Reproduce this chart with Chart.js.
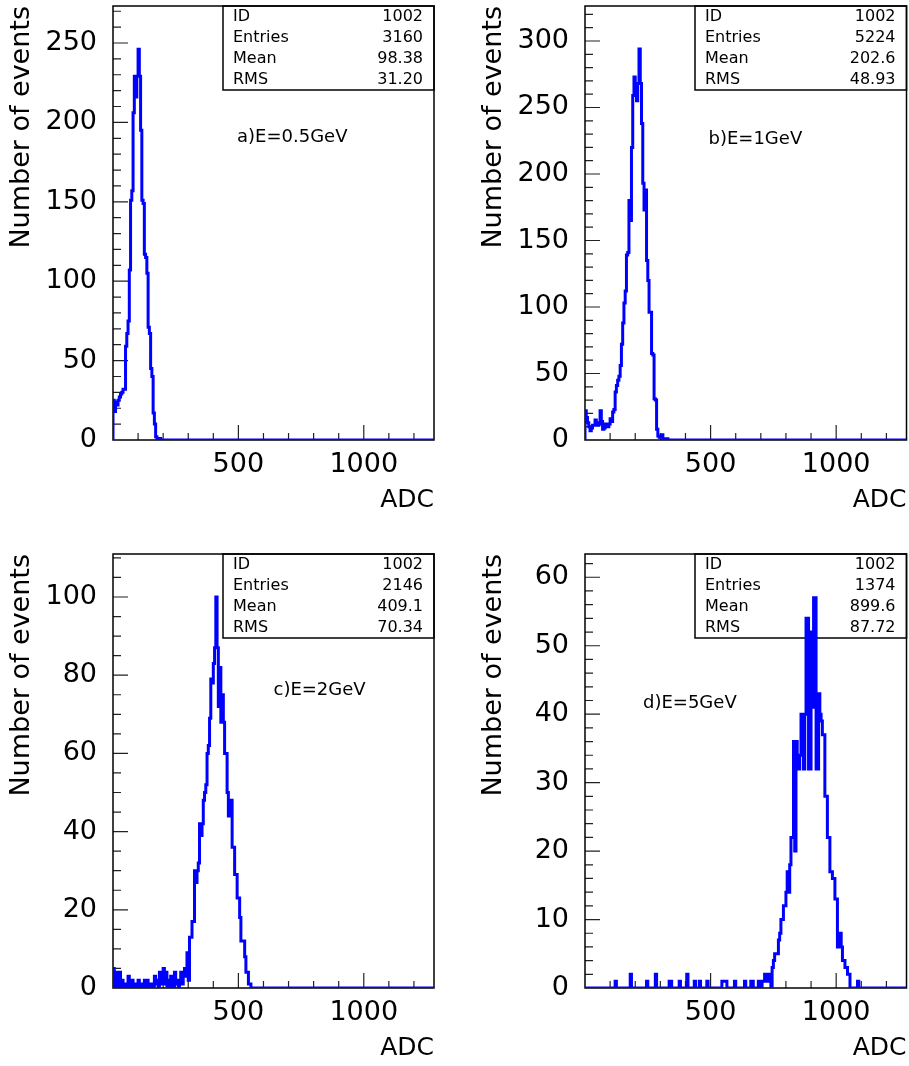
<!DOCTYPE html>
<html lang="en">
  <head>
    <meta charset="UTF-8" />
    <title>ADC spectra</title>
    <script src="https://cdn.jsdelivr.net/npm/chart.js"></script>
    <style>
      html,
      body {
        margin: 0;
        padding: 0;
        background: #ffffff;
        overflow: hidden;
      }
      body {
        position: relative;
        width: 909px;
        height: 1066px;
      }
      canvas {
        position: absolute;
      }
    </style>
  </head>

  <body>
    <canvas id="histA" width="454" height="530" style="left: 0px; top: 0px"></canvas>
    <canvas id="histB" width="437" height="530" style="left: 472px; top: 0px"></canvas>
    <canvas id="histC" width="454" height="530" style="left: 0px; top: 548px"></canvas>
    <canvas id="histD" width="437" height="530" style="left: 472px; top: 548px"></canvas>

    <script>
      // 256 bins of 5 ADC counts each, 0..1280; counts listed from bin 0,
      // bins past the end of each list are empty
      const binWidth = 5;
      const nBins = 256;

      const countsA = [
        8, 25, 18, 24, 22, 25, 27, 29, 30, 32,
        32, 59, 67, 75, 107, 151, 157, 206, 229, 216,
        229, 246, 229, 195, 151, 149, 117, 115, 105, 71,
        67, 45, 40, 17, 10, 2, 1, 1, 1,
      ];

      const countsB = [
        18, 22, 17, 13, 10, 7, 9, 11, 11, 15,
        13, 11, 12, 22, 14, 8, 9, 12, 11, 10,
        12, 16, 14, 21, 23, 36, 41, 45, 48, 56,
        72, 88, 103, 112, 139, 141, 180, 165, 220, 259,
        273, 262, 255, 268, 294, 268, 238, 193, 173, 188,
        135, 120, 96, 96, 65, 64, 31, 30, 8, 3,
        2, 3, 4, 1, 1, 1, 1,
      ];

      const countsC = [
        1, 5, 0, 4, 1, 0, 4, 0, 2, 0,
        0, 1, 0, 3, 1, 0, 2, 0, 1, 0,
        0, 2, 0, 1, 0, 1, 2, 0, 2, 1,
        0, 1, 1, 0, 3, 1, 2, 0, 4, 1,
        2, 5, 1, 4, 0, 2, 0, 3, 2, 0,
        4, 1, 2, 0, 2, 4, 1, 4, 5, 3,
        9, 2, 13, 13, 17, 17, 30, 27, 30, 32,
        42, 39, 42, 48, 50, 52, 60, 62, 69, 79,
        78, 83, 87, 100, 87, 72, 82, 68, 75, 68,
        60, 60, 50, 44, 48, 48, 36, 36, 29, 29,
        23, 23, 18, 12, 12, 12, 8, 4, 4, 1,
        1,
      ];

      const countsD = [
        0, 0, 0, 0, 0, 0, 0, 0, 0, 0, 0, 0, 0, 0, 0, 0, 0, 0, 0, 0,
        0, 0, 0, 0, 0, 1, 0, 0, 0, 0, 0, 0, 0, 0, 0, 0, 0, 2, 0, 0,
        0, 0, 0, 0, 0, 0, 0, 0, 0, 0, 1, 0, 0, 0, 0, 0, 0, 2, 0, 0,
        0, 0, 0, 0, 0, 0, 0, 0, 1, 1, 0, 0, 0, 0, 0, 0, 1, 0, 0, 0,
        0, 0, 2, 0, 0, 0, 0, 0, 1, 0, 0, 0, 1, 0, 0, 0, 0, 0, 1, 0,
        0, 0, 0, 0, 0, 0, 0, 0, 0, 0, 1, 1, 1, 1, 0, 0, 0, 0, 0, 0,
        1, 0, 0, 0, 0, 0, 0, 0, 1, 0, 0, 0, 0, 1, 1, 0, 0, 0, 0, 1,
        0, 0, 1, 1, 2, 1, 2, 1, 2, 0, 3, 4, 5, 5, 5, 7, 8, 10, 10, 12,
        12, 14, 17, 14, 18, 22, 22, 36, 20, 36, 34, 32, 34, 40, 40, 32, 40, 54, 54, 32,
        32, 52, 41, 57, 57, 32, 32, 43, 40, 39, 37, 37, 28, 28, 22, 22, 17, 17, 16, 16,
        13, 13, 6, 6, 8, 6, 4, 4, 3, 3, 2, 2, 0, 0, 0, 0, 0, 0, 1,
      ];

      // labelled ticks
      const xTickLabels = [500, 1000];
      const yTicksA = [0, 50, 100, 150, 200, 250];
      const yTicksB = [0, 50, 100, 150, 200, 250, 300];
      const yTicksC = [0, 20, 40, 60, 80, 100];
      const yTicksD = [0, 10, 20, 30, 40, 50, 60];

      // statistics box
      const statNames = ["ID", "Entries", "Mean", "RMS"];
      const statsA = ["1002", "3160", "98.38", "31.20"];
      const statsB = ["1002", "5224", "202.6", "48.93"];
      const statsC = ["1002", "2146", "409.1", "70.34"];
      const statsD = ["1002", "1374", "899.6", "87.72"];

      const energyNames = ["a)E=0.5GeV", "b)E=1GeV", "c)E=2GeV", "d)E=5GeV"];

      Chart.defaults.font.family = "'DejaVu Sans', sans-serif";
      Chart.defaults.color = "#000000";

      function histPoints(counts) {
        const pts = [{ x: 0, y: 0 }];
        for (let i = 0; i < nBins; i++) {
          pts.push({ x: i * binWidth, y: i < counts.length ? counts[i] : 0 });
        }
        pts.push({ x: nBins * binWidth, y: 0 });
        return pts;
      }

      // frame, inward tick marks, stats box and energy label
      const framePlugin = {
        id: "frame",
        beforeDatasetsDraw(chart, args, opts) {
          const { ctx, chartArea: a } = chart;
          const x = chart.scales.x;
          const y = chart.scales.y;
          ctx.save();

          ctx.strokeStyle = "#222222";
          ctx.lineWidth = 1.2;
          ctx.beginPath();
          for (let v = opts.yMinor; v < y.max; v += opts.yMinor) {
            const py = y.getPixelForValue(v);
            const len = v % opts.yMajor === 0 ? 15 : 8;
            ctx.moveTo(a.left, py);
            ctx.lineTo(a.left + len, py);
          }
          for (let v = 100; v < x.max; v += 100) {
            const px = x.getPixelForValue(v);
            const len = v % 500 === 0 ? 15 : 7;
            ctx.moveTo(px, a.bottom);
            ctx.lineTo(px, a.bottom - len);
          }
          ctx.stroke();

          ctx.strokeStyle = "#000000";
          ctx.lineWidth = 1.5;
          ctx.strokeRect(a.left, a.top, a.right - a.left, a.bottom - a.top);

          const boxLeft = a.left + 110;
          ctx.strokeRect(boxLeft, a.top, a.right - boxLeft, 84);

          ctx.fillStyle = "#000000";
          ctx.font = "16px 'DejaVu Sans', sans-serif";
          ctx.textBaseline = "middle";
          statNames.forEach((name, k) => {
            const ty = a.top + 11 + 21.1 * k;
            ctx.textAlign = "left";
            ctx.fillText(name, boxLeft + 10, ty);
            ctx.textAlign = "right";
            ctx.fillText(opts.stats[k], a.right - 11, ty);
          });

          ctx.font = "18px 'DejaVu Sans', sans-serif";
          ctx.textAlign = "left";
          ctx.fillText(opts.energy, a.left + opts.labelDx, a.top + opts.labelDy);

          ctx.restore();
        },
      };

      function makeHist(id, counts, yTicks, yMax, frameOpts, rightPad) {
        new Chart(document.getElementById(id), {
          type: "line",
          data: {
            datasets: [
              {
                data: histPoints(counts),
                borderColor: "#0000ff",
                borderWidth: 3,
                stepped: "after",
                pointRadius: 0,
                fill: false,
              },
            ],
          },
          options: {
            responsive: false,
            animation: false,
            devicePixelRatio: 1,
            layout: { padding: { left: 0, top: 6, right: rightPad, bottom: 0 } },
            plugins: {
              legend: { display: false },
              tooltip: { enabled: false },
              frame: frameOpts,
            },
            scales: {
              x: {
                type: "linear",
                min: 0,
                max: nBins * binWidth,
                grid: { display: false, drawTicks: false },
                border: { display: false },
                afterBuildTicks: (s) => {
                  s.ticks = xTickLabels.map((v) => ({ value: v }));
                },
                afterFit: (s) => {
                  s.height = 90;
                  s.paddingLeft = 0;
                  s.paddingRight = 0;
                },
                ticks: {
                  font: { size: 27 },
                  padding: 9,
                  maxRotation: 0,
                  autoSkip: false,
                  callback: (v) => String(v),
                },
                title: {
                  display: true,
                  text: "ADC",
                  align: "end",
                  font: { size: 25, lineHeight: 1.2 },
                  padding: { top: 0, bottom: 15 },
                },
              },
              y: {
                type: "linear",
                min: 0,
                max: yMax,
                grid: { display: false, drawTicks: false },
                border: { display: false },
                afterBuildTicks: (s) => {
                  s.ticks = yTicks.map((v) => ({ value: v }));
                },
                afterFit: (s) => {
                  s.width = 113;
                  s.paddingTop = 0;
                  s.paddingBottom = 0;
                },
                ticks: { font: { size: 27 }, padding: 16, callback: (v) => String(v) },
                title: {
                  display: true,
                  text: "Number of events",
                  align: "end",
                  font: { size: 27, lineHeight: 1.2 },
                  padding: { top: 6, bottom: 0 },
                },
              },
            },
          },
          plugins: [framePlugin],
        });
      }

      makeHist("histA", countsA, yTicksA, 273.3,
        { yMinor: 10, yMajor: 50, stats: statsA, energy: energyNames[0], labelDx: 124, labelDy: 131 }, 20);
      makeHist("histB", countsB, yTicksB, 326.3,
        { yMinor: 10, yMajor: 50, stats: statsB, energy: energyNames[1], labelDx: 123.5, labelDy: 133 }, 2.5);
      makeHist("histC", countsC, yTicksC, 111,
        { yMinor: 5, yMajor: 20, stats: statsC, energy: energyNames[2], labelDx: 160.5, labelDy: 136 }, 20);
      makeHist("histD", countsD, yTicksD, 63.4,
        { yMinor: 2, yMajor: 10, stats: statsD, energy: energyNames[3], labelDx: 58, labelDy: 149 }, 2.5);
    </script>
  </body>
</html>
